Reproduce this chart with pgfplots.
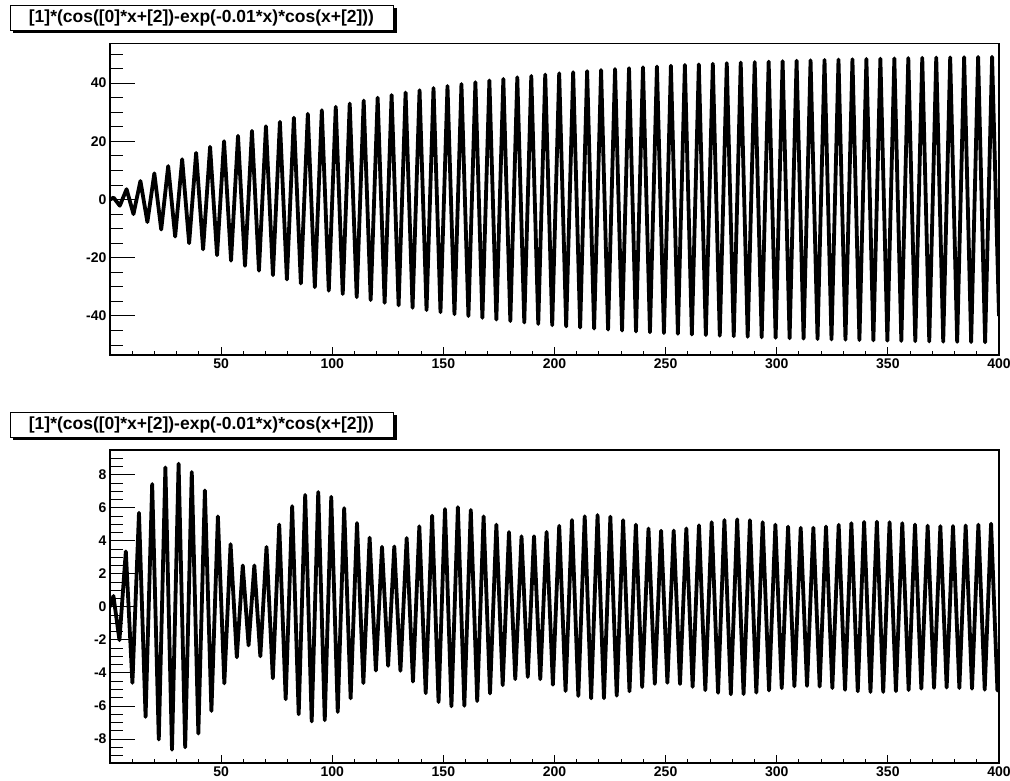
\documentclass[border=0pt]{standalone}
\usepackage{fontspec}
\setmainfont{Liberation Sans}
\usepackage{pgfplots}
\pgfplotsset{compat=1.18}
\pgfplotsset{
  rootbase/.style={scale only axis, width=889pt, xmin=0, xmax=400,
    tick align=inside, tick pos=left, clip=true,
    axis line style={line width=1.1pt},
    every tick/.style={black, line width=1.0pt},
    /pgf/number format/assume math mode=true,
    /pgf/number format/1000 sep={},
    tick label style={font=\fontsize{14}{16}\selectfont\bfseries},
  },
  rootx/.style={rootbase, xtick={50,100,...,400}, minor xtick={0,10,...,400},
    ytick=\empty, major tick length=8pt, minor tick length=4pt},
  rooty/.style={rootbase, xtick=\empty, major tick length=25pt, minor tick length=12.5pt},
  rootline/.style={black, line width=3.8pt, line join=round, no marks},
}
\begin{document}
\begin{tikzpicture}
\useasboundingbox (0,0) rectangle (1010pt,780pt);
% ---------------- top panel ----------------
\begin{axis}[rooty, at={(110pt,425pt)}, anchor=south west, height=311.7pt,
  ymin=-53.4, ymax=53.7, ytick={-40,-20,0,20,40}, minor ytick={-50,-45,...,50}]
\end{axis}
\begin{axis}[rootx, at={(110pt,425pt)}, anchor=south west, height=311.7pt,
  ymin=-53.4, ymax=53.7]
\addplot[rootline] coordinates {
(0,0) (1.60,0.68) (4.41,-2.11) (7.46,3.57) (10.56,-4.99) (13.69,6.39) (16.82,-7.72) (19.95,9.02)
(23.04,-10.29) (26.18,11.52) (29.32,-12.71) (32.47,13.86) (35.61,-14.98) (38.75,16.06)
(41.89,-17.11) (45.03,18.13) (48.17,-19.12) (51.32,20.07) (54.46,-21.00) (57.60,21.89)
(60.74,-22.76) (63.88,23.60) (67.02,-24.42) (70.17,25.21) (73.31,-25.98) (76.45,26.72)
(79.59,-27.44) (82.73,28.14) (85.87,-28.82) (89.01,29.47) (92.16,-30.11) (95.30,30.72)
(98.44,-31.32) (101.58,31.90) (104.72,-32.46) (107.86,33.00) (111.01,-33.52) (114.15,34.03)
(117.29,-34.53) (120.43,35.01) (123.57,-35.47) (126.71,35.92) (129.86,-36.35) (133.00,36.78)
(136.14,-37.19) (139.28,37.58) (142.42,-37.97) (145.56,38.34) (148.70,-38.70) (151.85,39.05)
(154.99,-39.39) (158.13,39.72) (161.27,-40.03) (164.41,40.34) (167.55,-40.64) (170.70,40.93)
(173.84,-41.21) (176.98,41.48) (180.12,-41.75) (183.26,42.00) (186.40,-42.25) (189.55,42.49)
(192.69,-42.72) (195.83,42.95) (198.97,-43.16) (202.11,43.38) (205.25,-43.58) (208.40,43.78)
(211.54,-43.97) (214.68,44.16) (217.82,-44.34) (220.96,44.51) (224.10,-44.68) (227.24,44.85)
(230.39,-45.01) (233.53,45.16) (236.67,-45.31) (239.81,45.46) (242.95,-45.60) (246.09,45.73)
(249.24,-45.86) (252.38,45.99) (255.52,-46.12) (258.66,46.24) (261.80,-46.35) (264.94,46.47)
(268.09,-46.58) (271.23,46.68) (274.37,-46.78) (277.51,46.88) (280.65,-46.98) (283.79,47.07)
(286.93,-47.16) (290.08,47.25) (293.22,-47.34) (296.36,47.42) (299.50,-47.50) (302.64,47.58)
(305.78,-47.65) (308.93,47.72) (312.07,-47.79) (315.21,47.86) (318.35,-47.93) (321.49,47.99)
(324.63,-48.05) (327.78,48.12) (330.92,-48.17) (334.06,48.23) (337.20,-48.28) (340.34,48.34)
(343.48,-48.39) (346.63,48.44) (349.77,-48.49) (352.91,48.53) (356.05,-48.58) (359.19,48.62)
(362.33,-48.67) (365.47,48.71) (368.62,-48.75) (371.76,48.79) (374.90,-48.82) (378.04,48.86)
(381.18,-48.90) (384.32,48.93) (387.47,-48.96) (390.61,48.99) (393.75,-49.03) (396.89,49.06)
(400,-40)
};
\end{axis}
% ---------------- bottom panel ----------------
\begin{axis}[rooty, at={(110pt,17pt)}, anchor=south west, height=313pt,
  ymin=-9.45, ymax=9.5, ytick={-8,-6,...,8}, minor ytick={-9,-8.5,...,9}]
\end{axis}
\begin{axis}[rootx, at={(110pt,17pt)}, anchor=south west, height=313pt,
  ymin=-9.45, ymax=9.5]
\addplot[rootline] coordinates {
(0,0) (1.55,0.66) (4.25,-2.01) (7.12,3.36) (10.08,-4.60) (13.04,5.70) (16.01,-6.66)
(18.98,7.44) (21.95,-8.03) (24.92,8.44) (27.89,-8.65) (30.86,8.67) (33.83,-8.50)
(36.79,8.17) (39.75,-7.67) (42.69,7.05) (45.63,-6.30) (48.55,5.48) (51.44,-4.63)
(54.25,3.80) (57.06,-3.05) (59.74,2.51) (62.35,-2.33) (64.94,2.51) (67.64,-2.99)
(70.42,3.63) (73.26,-4.32) (76.14,4.99) (79.05,-5.59) (81.97,6.10) (84.90,-6.50)
(87.83,6.78) (90.76,-6.93) (93.70,6.96) (96.63,-6.86) (99.55,6.66) (102.47,-6.36)
(105.37,5.98) (108.27,-5.54) (111.14,5.08) (114.00,-4.61) (116.82,4.19) (119.62,-3.85)
(122.39,3.64) (125.14,-3.57) (127.91,3.66) (130.68,-3.87) (133.49,4.17) (136.32,-4.52)
(139.18,4.88) (142.05,-5.22) (144.94,5.52) (147.83,-5.76) (150.73,5.93) (153.63,-6.02)
(156.53,6.04) (159.43,-5.99) (162.33,5.87) (165.22,-5.70) (168.10,5.48) (170.98,-5.24)
(173.84,4.98) (176.69,-4.74) (179.52,4.53) (182.34,-4.37) (185.16,4.27) (187.97,-4.24)
(190.78,4.28) (193.60,-4.38) (196.43,4.54) (199.27,-4.71) (202.12,4.91) (204.98,-5.09)
(207.85,5.26) (210.72,-5.39) (213.60,5.49) (216.49,-5.54) (219.37,5.56) (222.25,-5.53)
(225.13,5.46) (228.00,-5.37) (230.87,5.25) (233.74,-5.11) (236.60,4.98) (239.45,-4.85)
(242.29,4.74) (245.13,-4.66) (247.96,4.61) (250.79,-4.59) (253.63,4.62) (256.47,-4.67)
(259.31,4.75) (262.15,-4.84) (265.01,4.94) (267.86,-5.04) (270.73,5.13) (273.59,-5.20)
(276.46,5.26) (279.33,-5.29) (282.20,5.30) (285.07,-5.28) (287.94,5.25) (290.81,-5.19)
(293.67,5.13) (296.53,-5.06) (299.39,4.98) (302.24,-4.92) (305.09,4.86) (307.94,-4.81)
(310.78,4.79) (313.62,-4.78) (316.47,4.79) (319.31,-4.82) (322.16,4.86) (325.01,-4.91)
(327.87,4.97) (330.72,-5.02) (333.58,5.07) (336.45,-5.11) (339.31,5.14) (342.17,-5.15)
(345.04,5.16) (347.90,-5.15) (350.76,5.13) (353.62,-5.10) (356.48,5.07) (359.34,-5.03)
(362.20,4.99) (365.05,-4.95) (367.90,4.92) (370.76,-4.90) (373.61,4.89) (376.45,-4.88)
(379.30,4.89) (382.16,-4.91) (385.01,4.93) (387.86,-4.95) (390.72,4.98) (393.57,-5.01)
(396.43,5.04) (399.29,-5.06) (400,-4.8)
};
\end{axis}
% ---------------- title boxes ----------------
\fill[black] (393pt,747pt) rectangle (397pt,772pt);
\fill[black] (13pt,747pt) rectangle (397pt,750pt);
\draw[line width=0.8pt, fill=white] (10pt,750pt) rectangle (393pt,775pt);
\node[font=\fontsize{17.5}{20}\selectfont\bfseries] at (201.5pt,762.5pt) {[1]*(cos([0]*x+[2])-exp(-0.01*x)*cos(x+[2]))};
\fill[black] (393pt,340pt) rectangle (397pt,365pt);
\fill[black] (13pt,340pt) rectangle (397pt,343pt);
\draw[line width=0.8pt, fill=white] (10pt,343pt) rectangle (393pt,368pt);
\node[font=\fontsize{17.5}{20}\selectfont\bfseries] at (201.5pt,355.5pt) {[1]*(cos([0]*x+[2])-exp(-0.01*x)*cos(x+[2]))};
\end{tikzpicture}
\end{document}
